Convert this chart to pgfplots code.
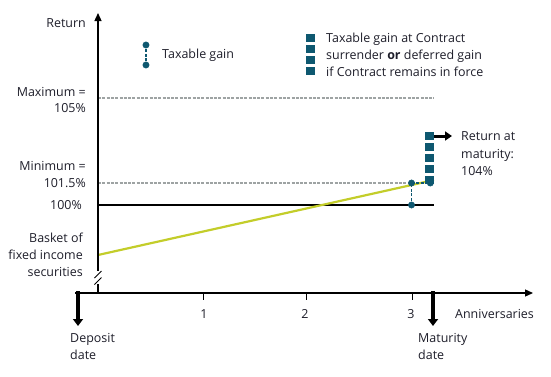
\documentclass[border=0pt]{standalone}
\usepackage{pgfplots}
\pgfplotsset{compat=1.18}
\usepackage{fontspec}
\setmainfont{Open Sans}
\usetikzlibrary{arrows.meta}
\definecolor{myteal}{HTML}{0E5870}
\definecolor{lime}{HTML}{C3CD2A}
\definecolor{dgray}{HTML}{9EA3A3}
\definecolor{txt}{HTML}{1E1E2A}
\begin{document}
\begin{tikzpicture}[font=\fontsize{12.5}{15}\selectfont]
\begin{axis}[x=104.5bp, y=1bp, axis lines=none, ticks=none,
  xmin=-0.938, xmax=4.335, ymin=-83, ymax=293, clip=false, scale only axis]
% reference levels (schematic heights)
\addplot[dgray, line width=1.2bp, dash pattern=on 3bp off 1.3bp] coordinates {(0,195) (3.215,195)};
\addplot[dgray, line width=1.2bp, dash pattern=on 3bp off 1.3bp] coordinates {(0,110) (3,110)};
\addplot[black, line width=2bp] coordinates {(0,88) (3.215,88)};
% basket of fixed income securities
\addplot[lime, line width=2.2bp] coordinates {(0,38) (3.215,113)};
% taxable gain at anniversary 3
\addplot[myteal, line width=1.8bp, dash pattern=on 3bp off 1.5bp] coordinates {(3,88) (3,110)};
\addplot[myteal, line width=1.8bp, dash pattern=on 3bp off 1.5bp] coordinates {(3,110) (3.18,110)};
\addplot[only marks, mark=square*, mark size=4.2bp, mark options={myteal, draw=none, yscale=0.8}] coordinates {(3.17,157) (3.17,146) (3.17,135) (3.17,124) (3.17,113)};
\addplot[only marks, mark=*, mark size=3.2bp, mark options={myteal, draw=none}] coordinates {(3,88) (3,110) (3.18,110)};
% legend symbols
\addplot[myteal, line width=1.8bp, dash pattern=on 3bp off 1.5bp] coordinates {(0.459,248) (0.459,228)};
\addplot[only marks, mark=*, mark size=3.2bp, mark options={myteal, draw=none}] coordinates {(0.459,248) (0.459,228)};
\addplot[only marks, mark=square*, mark size=4.2bp, mark options={myteal, draw=none, yscale=0.8}] coordinates {(2.03,255) (2.03,244) (2.03,233) (2.03,222)};
\coordinate (O) at (axis cs:0,0);
\end{axis}
\begin{scope}[x=1bp, y=-1bp, shift={(O)}, shift={(-98,-293)}]
% y axis with break
\draw[line width=1.3bp, -{Triangle[length=8bp,width=7bp]}] (98,271) -- (98,13);
\draw[line width=1.3bp] (98,284) -- (98,293.6);
\draw[line width=0.8bp] (94.5,278) -- (101.5,271);
\draw[line width=0.8bp] (94.5,284.5) -- (101.5,277.5);
% x axis
\draw[line width=1.3bp, -{Triangle[length=8bp,width=7bp]}] (75,293) -- (533,293);
\foreach \px in {203,306,412} \draw[line width=1bp] (\px,293) -- (\px,300);
% deposit and maturity arrows
\draw[line width=4bp, -{Triangle[length=7bp,width=10bp]}] (78,291) -- (78,326);
\draw[line width=4bp, -{Triangle[length=7bp,width=10bp]}] (433,291) -- (433,326);
% return at maturity arrow
\draw[line width=3bp, -{Triangle[length=7bp,width=9bp]}] (434,136) -- (452,136);
% labels
\begin{scope}[every node/.style={inner sep=0pt, text=txt}]
\node[anchor=base east] at (86,27.5) {Return};
\node[anchor=base east] at (86,96.5) {Maximum =};
\node[anchor=base east] at (86,112.5) {105\%};
\node[anchor=base east] at (86,170.5) {Minimum =};
\node[anchor=base east] at (86,187.5) {101.5\%};
\node[anchor=base east] at (82,209.5) {100\%};
\node[anchor=base east] at (83,242) {Basket of};
\node[anchor=base east] at (83,259) {fixed income};
\node[anchor=base east] at (83,276) {securities};
\node[anchor=base west] at (162,58) {Taxable gain};
\node[anchor=base west] at (326,42.5) {Taxable gain at Contract};
\node[anchor=base west] at (326,59.5) {surrender \textbf{or} deferred gain};
\node[anchor=base west] at (326,76.5) {if Contract remains in force};
\node[anchor=base west] at (461,140.5) {Return at};
\node[anchor=base west] at (461,158) {maturity:};
\node[anchor=base west] at (461,175.5) {104\%};
\node[anchor=base] at (204,318) {1};
\node[anchor=base] at (305,318) {2};
\node[anchor=base] at (411,318) {3};
\node[anchor=base west] at (455,318) {Anniversaries};
\node[anchor=base west] at (70,342.5) {Deposit};
\node[anchor=base west] at (70,359.5) {date};
\node[anchor=base west] at (418,342.5) {Maturity};
\node[anchor=base west] at (418,359.5) {date};
\end{scope}
\pgfresetboundingbox
\path (0,0) rectangle (551,376);
\end{scope}
\end{tikzpicture}
\end{document}
